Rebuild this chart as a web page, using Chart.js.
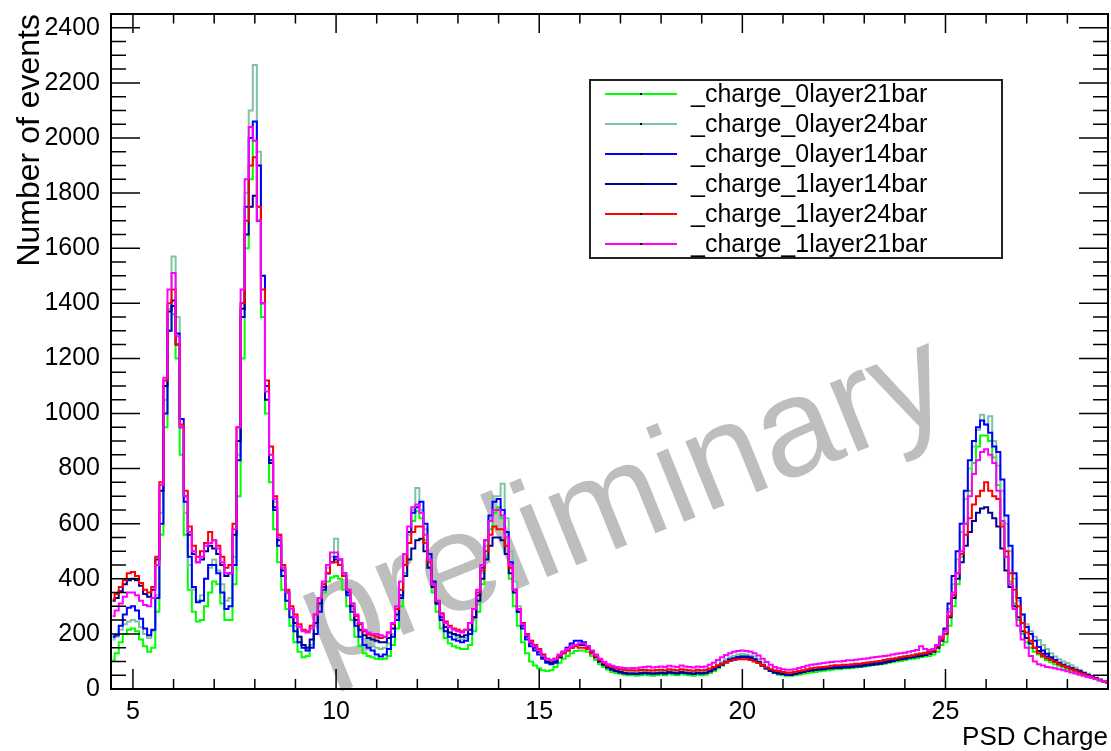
<!DOCTYPE html>
<html>
<head>
<meta charset="utf-8">
<script src="https://cdn.jsdelivr.net/npm/chart.js@4.4.0/dist/chart.umd.min.js"></script>
<style>
  html, body { margin: 0; padding: 0; background: #fff; }
  #wrap { width: 1111px; height: 751px; }
</style>
</head>
<body>
<div id="wrap"><canvas id="psd-chart" width="1111" height="751"></canvas></div>
<script>
// bin centres of the PSD charge histograms (bin width 0.1)
const binCenters = [
  4.5, 4.6, 4.7, 4.8, 4.9,
  5.0, 5.1, 5.2, 5.3, 5.4, 5.5, 5.6, 5.7, 5.8, 5.9,
  6.0, 6.1, 6.2, 6.3, 6.4, 6.5, 6.6, 6.7, 6.8, 6.9,
  7.0, 7.1, 7.2, 7.3, 7.4, 7.5, 7.6, 7.7, 7.8, 7.9,
  8.0, 8.1, 8.2, 8.3, 8.4, 8.5, 8.6, 8.7, 8.8, 8.9,
  9.0, 9.1, 9.2, 9.3, 9.4, 9.5, 9.6, 9.7, 9.8, 9.9,
  10.0, 10.1, 10.2, 10.3, 10.4, 10.5, 10.6, 10.7, 10.8, 10.9,
  11.0, 11.1, 11.2, 11.3, 11.4, 11.5, 11.6, 11.7, 11.8, 11.9,
  12.0, 12.1, 12.2, 12.3, 12.4, 12.5, 12.6, 12.7, 12.8, 12.9,
  13.0, 13.1, 13.2, 13.3, 13.4, 13.5, 13.6, 13.7, 13.8, 13.9,
  14.0, 14.1, 14.2, 14.3, 14.4, 14.5, 14.6, 14.7, 14.8, 14.9,
  15.0, 15.1, 15.2, 15.3, 15.4, 15.5, 15.6, 15.7, 15.8, 15.9,
  16.0, 16.1, 16.2, 16.3, 16.4, 16.5, 16.6, 16.7, 16.8, 16.9,
  17.0, 17.1, 17.2, 17.3, 17.4, 17.5, 17.6, 17.7, 17.8, 17.9,
  18.0, 18.1, 18.2, 18.3, 18.4, 18.5, 18.6, 18.7, 18.8, 18.9,
  19.0, 19.1, 19.2, 19.3, 19.4, 19.5, 19.6, 19.7, 19.8, 19.9,
  20.0, 20.1, 20.2, 20.3, 20.4, 20.5, 20.6, 20.7, 20.8, 20.9,
  21.0, 21.1, 21.2, 21.3, 21.4, 21.5, 21.6, 21.7, 21.8, 21.9,
  22.0, 22.1, 22.2, 22.3, 22.4, 22.5, 22.6, 22.7, 22.8, 22.9,
  23.0, 23.1, 23.2, 23.3, 23.4, 23.5, 23.6, 23.7, 23.8, 23.9,
  24.0, 24.1, 24.2, 24.3, 24.4, 24.5, 24.6, 24.7, 24.8, 24.9,
  25.0, 25.1, 25.2, 25.3, 25.4, 25.5, 25.6, 25.7, 25.8, 25.9,
  26.0, 26.1, 26.2, 26.3, 26.4, 26.5, 26.6, 26.7, 26.8, 26.9,
  27.0, 27.1, 27.2, 27.3, 27.4, 27.5, 27.6, 27.7, 27.8, 27.9,
  28.0, 28.1, 28.2, 28.3, 28.4, 28.5, 28.6, 28.7, 28.8, 28.9,
  29.0
];

const charge0layer21 = [
  105, 130, 170, 200, 215,
  220, 210, 180, 155, 135, 150, 280, 560, 950, 1300,
  1360, 1200, 850, 560, 360, 280, 245, 250, 300, 350,
  390, 380, 310, 250, 250, 380, 700, 1200, 1600, 1850,
  1990, 1750, 1350, 1000, 750, 580, 460, 360, 290, 230,
  170, 135, 115, 120, 160, 230, 300, 350, 390, 405,
  410, 400, 360, 300, 250, 190, 155, 130, 120, 115,
  110, 108, 110, 120, 160, 220, 300, 420, 530, 610,
  645, 620, 540, 440, 350, 280, 220, 185, 165, 155,
  150, 145, 145, 160, 210, 280, 380, 480, 580, 640,
  660, 620, 520, 400, 300, 230, 170, 130, 100, 85,
  75, 68, 65, 68, 80, 95, 110, 120, 130, 138,
  140, 140, 135, 120, 105, 90, 80, 70, 62, 58,
  55, 52, 50, 50, 48, 50, 52, 50, 48, 50,
  52, 50, 55, 52, 50, 55, 52, 50, 48, 52,
  50, 52, 58, 65, 75, 85, 95, 105, 112, 118,
  120, 118, 115, 110, 100, 88, 75, 65, 58, 52,
  50, 48, 48, 50, 52, 55, 58, 60, 62, 64,
  66, 68, 70, 72, 72, 74, 75, 76, 78, 80,
  82, 84, 86, 88, 90, 92, 95, 98, 100, 102,
  105, 108, 110, 112, 115, 118, 120, 125, 135, 160,
  170, 230, 300, 380, 480, 600, 720, 820, 880, 920,
  920, 900, 840, 740, 600, 480, 390, 310, 250, 200,
  170, 150, 135, 125, 115, 105, 97, 90, 84, 78,
  72, 66, 60, 55, 50, 45, 40, 35, 30, 26,
  22
];

const charge0layer24 = [
  180, 190, 215, 235, 245,
  250, 245, 225, 200, 185, 210, 340, 640, 1050, 1380,
  1570, 1350, 950, 640, 450, 360, 320, 340, 400, 440,
  470, 430, 380, 320, 330, 480, 850, 1400, 1800, 2100,
  2265, 1950, 1500, 1100, 850, 680, 560, 440, 350, 290,
  230, 190, 160, 140, 160, 230, 310, 380, 440, 480,
  545, 470, 420, 350, 290, 240, 210, 180, 165, 155,
  150, 145, 150, 165, 200, 260, 340, 450, 560, 650,
  730, 650, 580, 480, 390, 320, 260, 225, 205, 195,
  185, 180, 185, 200, 250, 320, 420, 520, 620, 700,
  700, 745, 620, 500, 390, 300, 240, 200, 175, 160,
  145, 125, 110, 100, 105, 120, 135, 145, 155, 160,
  165, 160, 150, 135, 120, 105, 95, 85, 78, 72,
  68, 65, 62, 62, 60, 62, 64, 62, 60, 62,
  64, 62, 66, 64, 62, 66, 64, 62, 60, 64,
  62, 64, 70, 78, 88, 98, 108, 115, 120, 125,
  128, 125, 122, 118, 108, 95, 82, 72, 65, 60,
  58, 56, 56, 58, 62, 65, 68, 70, 72, 74,
  76, 78, 80, 82, 82, 84, 85, 86, 88, 90,
  92, 94, 96, 98, 100, 103, 106, 110, 113, 116,
  118, 122, 125, 128, 130, 133, 138, 145, 160, 185,
  215, 290, 380, 470, 570, 690, 800, 880, 940, 995,
  960, 990, 900, 810, 720, 600, 500, 400, 320, 270,
  235, 210, 190, 178, 160, 145, 130, 118, 108, 100,
  94, 86, 78, 70, 62, 55, 48, 42, 36, 30,
  26
];

const charge0layer14 = [
  190, 195, 230, 270, 295,
  300, 285, 255, 220, 195, 215, 330, 600, 1000, 1300,
  1390, 1290, 980, 680, 480, 370, 315, 320, 400, 450,
  450, 420, 350, 290, 300, 450, 830, 1350, 1750, 2000,
  2060, 1900, 1500, 1100, 830, 650, 520, 410, 320, 260,
  210, 170, 150, 140, 150, 200, 280, 360, 420, 460,
  480, 470, 420, 340, 280, 230, 190, 160, 150, 140,
  125, 118, 125, 145, 190, 250, 340, 450, 570, 640,
  660, 680, 600, 490, 390, 310, 250, 210, 190, 180,
  175, 170, 175, 200, 260, 340, 440, 540, 630, 680,
  690, 650, 570, 460, 360, 280, 220, 180, 155, 140,
  125, 110, 95, 90, 95, 115, 135, 150, 165, 175,
  175, 170, 155, 135, 115, 100, 88, 78, 70, 65,
  60, 57, 55, 55, 54, 56, 58, 56, 55, 56,
  58, 56, 60, 58, 56, 60, 58, 56, 54, 58,
  56, 58, 64, 72, 82, 92, 100, 108, 112, 116,
  118, 118, 115, 108, 98, 86, 75, 66, 60, 56,
  54, 52, 52, 55, 58, 62, 65, 68, 70, 72,
  74, 76, 78, 80, 80, 82, 83, 84, 86, 88,
  90, 92, 94, 96, 98, 100, 104, 108, 110, 112,
  115, 118, 120, 122, 125, 128, 133, 142, 160, 190,
  220, 310, 410, 500, 600, 720, 830, 900, 950, 975,
  960, 930, 880, 860, 760, 630, 520, 420, 330, 270,
  225, 200, 175, 152, 140, 128, 115, 105, 95, 88,
  82, 76, 70, 65, 58, 52, 46, 40, 34, 28,
  24
];

const charge1layer14 = [
  320, 330, 355, 380, 395,
  400, 395, 375, 345, 335, 360, 470, 720, 1100, 1370,
  1410, 1250, 950, 700, 560, 490, 460, 470, 500, 520,
  510, 490, 450, 410, 420, 560, 900, 1380, 1650, 1750,
  1790, 1700, 1400, 1050, 820, 660, 540, 430, 350, 290,
  240, 190, 160, 150, 180, 240, 310, 370, 420, 460,
  470, 450, 410, 350, 300, 250, 215, 195, 185, 180,
  175, 170, 170, 185, 220, 270, 330, 410, 470, 510,
  540, 545, 500, 440, 370, 310, 260, 225, 205, 200,
  195, 190, 195, 215, 260, 320, 400, 470, 520, 550,
  550, 540, 490, 420, 350, 280, 230, 190, 165, 150,
  135, 115, 100, 95, 100, 115, 130, 140, 150, 160,
  160, 160, 150, 130, 115, 100, 88, 78, 72, 66,
  62, 58, 56, 56, 55, 57, 59, 57, 56, 57,
  59, 57, 61, 59, 57, 61, 59, 57, 55, 59,
  57, 59, 64, 72, 80, 88, 96, 103, 108, 112,
  114, 114, 110, 104, 95, 84, 74, 66, 60, 57,
  55, 52, 52, 55, 58, 62, 65, 67, 69, 71,
  72, 74, 75, 76, 76, 78, 78, 80, 82, 82,
  84, 86, 88, 90, 92, 95, 98, 102, 105, 108,
  110, 113, 115, 118, 120, 123, 128, 135, 150, 175,
  200, 260, 330, 400, 460, 520, 570, 610, 640, 655,
  660, 640, 620, 590, 510, 430, 370, 300, 260, 210,
  185, 165, 150, 138, 128, 118, 108, 100, 92, 85,
  80, 74, 68, 62, 56, 50, 44, 38, 33, 28,
  24
];

const charge1layer24 = [
  325, 345, 370, 395, 420,
  425, 410, 385, 360, 350, 370, 480, 750, 1120, 1400,
  1450, 1250, 960, 720, 590, 520, 480, 500, 530, 570,
  540, 520, 480, 440, 450, 600, 950, 1400, 1700, 1900,
  1930, 1750, 1450, 1120, 880, 700, 560, 450, 360, 300,
  270, 235, 215, 210, 230, 270, 330, 380, 420, 460,
  460, 450, 410, 360, 310, 265, 235, 210, 200, 195,
  190, 185, 190, 205, 235, 290, 360, 450, 530, 570,
  590, 590, 530, 460, 380, 320, 275, 245, 230, 220,
  215, 210, 215, 240, 290, 350, 430, 500, 560, 590,
  580, 580, 520, 440, 360, 290, 240, 200, 175, 160,
  145, 125, 110, 105, 110, 120, 130, 140, 150, 155,
  150, 150, 145, 130, 118, 105, 95, 85, 80, 75,
  72, 70, 68, 68, 67, 69, 70, 68, 67, 69,
  70, 68, 72, 70, 68, 72, 70, 68, 66, 70,
  68, 70, 74, 80, 86, 92, 98, 102, 105, 108,
  108, 108, 105, 100, 94, 86, 78, 72, 68, 65,
  62, 60, 60, 62, 65, 68, 72, 75, 77, 79,
  80, 82, 84, 86, 86, 88, 88, 90, 92, 92,
  94, 96, 98, 100, 102, 105, 108, 110, 112, 115,
  118, 120, 122, 125, 128, 130, 133, 140, 155, 180,
  200, 265, 340, 420, 490, 560, 620, 670, 700, 720,
  750, 720, 700, 690, 590, 500, 420, 360, 300, 240,
  205, 175, 150, 130, 120, 112, 105, 98, 90, 84,
  78, 72, 66, 60, 54, 48, 43, 38, 33, 28,
  24
];

const charge1layer21 = [
  265, 285, 310, 335, 350,
  350, 340, 320, 305, 300, 330, 450, 740, 1130, 1450,
  1510, 1280, 950, 700, 570, 500, 460, 480, 520, 530,
  540, 510, 460, 420, 420, 580, 950, 1450, 1850, 2040,
  1990, 1700, 1400, 1080, 850, 690, 550, 440, 350, 290,
  260, 225, 210, 205, 220, 270, 330, 390, 450, 495,
  495, 470, 420, 360, 310, 270, 240, 215, 205, 200,
  200, 195, 190, 205, 240, 300, 390, 490, 590, 660,
  670, 640, 560, 470, 380, 320, 270, 240, 225, 215,
  210, 205, 215, 240, 290, 360, 450, 540, 610, 650,
  650, 630, 550, 450, 360, 290, 235, 195, 170, 155,
  140, 120, 108, 105, 110, 125, 135, 145, 155, 160,
  165, 165, 155, 140, 125, 110, 98, 90, 84, 80,
  78, 76, 74, 76, 75, 78, 80, 82, 78, 80,
  82, 80, 84, 82, 80, 85, 82, 80, 78, 82,
  80, 82, 88, 95, 105, 115, 123, 130, 135, 138,
  140, 138, 135, 130, 122, 110, 98, 88, 80, 75,
  72, 70, 70, 72, 76, 80, 84, 88, 90, 92,
  94, 96, 98, 100, 100, 102, 104, 104, 106, 108,
  110, 112, 114, 116, 118, 120, 122, 125, 128, 130,
  132, 135, 138, 142, 155, 145, 142, 145, 160, 190,
  210, 280, 350, 420, 500, 600, 700, 780, 830, 860,
  870, 850, 820, 720, 610, 480, 380, 290, 230, 180,
  150, 120, 100, 90, 85, 80, 78, 75, 72, 68,
  64, 60, 56, 52, 48, 44, 40, 36, 32, 28,
  24
];

const seriesNames = ['_charge_0layer21bar', '_charge_0layer24bar', '_charge_0layer14bar',
                     '_charge_1layer14bar', '_charge_1layer24bar', '_charge_1layer21bar'];
const seriesValues = [charge0layer21, charge0layer24, charge0layer14,
                      charge1layer14, charge1layer24, charge1layer21];
const seriesColors = ['#00ff00', 'rgb(126,196,160)', '#0000ff', '#000099', '#ff0000', '#ff00ff'];

const xTickLabels = [5, 10, 15, 20, 25];
const yTickLabels = [0, 200, 400, 600, 800, 1000, 1200, 1400, 1600, 1800, 2000, 2200, 2400];

const FONT = "'Liberation Sans', Arial, Helvetica, sans-serif";

// ROOT-like frame: inward ticks on all four sides, legend box, watermark
const rootStyle = {
  id: 'rootStyle',
  beforeDatasetsDraw(chart) {
    const ctx = chart.ctx;
    ctx.save();
    ctx.translate(322, 668);
    ctx.rotate(-22 * Math.PI / 180);
    ctx.font = '140px ' + FONT;
    ctx.fillStyle = '#bebebe';
    ctx.textAlign = 'left';
    ctx.textBaseline = 'alphabetic';
    ctx.fillText('preliminary', 0, 0);
    ctx.restore();
  },
  afterDatasetsDraw(chart) {
    const {ctx, chartArea: a} = chart;
    const xs = chart.scales.x, ys = chart.scales.y;
    ctx.save();
    ctx.strokeStyle = '#000';
    ctx.lineWidth = 1.5;
    ctx.beginPath();
    for (let v = 0; v <= ys.max; v += 50) {
      const py = ys.getPixelForValue(v);
      const len = v % 200 === 0 ? 29 : 15;
      ctx.moveTo(a.left, py); ctx.lineTo(a.left + len, py);
      ctx.moveTo(a.right, py); ctx.lineTo(a.right - len, py);
    }
    for (let v = Math.ceil(xs.min); v <= xs.max; v += 1) {
      const px = xs.getPixelForValue(v);
      const len = v % 5 === 0 ? 20 : 10;
      ctx.moveTo(px, a.bottom); ctx.lineTo(px, a.bottom - len);
      ctx.moveTo(px, a.top); ctx.lineTo(px, a.top + 19 * len / 20);
    }
    ctx.stroke();
    ctx.lineWidth = 2;
    ctx.strokeRect(a.left, a.top, a.right - a.left, a.bottom - a.top);
    ctx.restore();
  },
  afterDraw(chart) {
    const ctx = chart.ctx;
    const box = {x: 590, y: 80, w: 412, h: 178};
    ctx.save();
    ctx.fillStyle = '#fff';
    ctx.fillRect(box.x, box.y, box.w, box.h);
    ctx.strokeStyle = '#222';
    ctx.lineWidth = 2;
    ctx.strokeRect(box.x, box.y, box.w, box.h);
    ctx.font = '25px ' + FONT;
    ctx.textBaseline = 'middle';
    ctx.textAlign = 'left';
    chart.data.datasets.forEach((ds, i) => {
      const cy = 94 + i * 30;
      ctx.strokeStyle = ds.borderColor;
      ctx.lineWidth = 2;
      ctx.beginPath();
      ctx.moveTo(605, cy); ctx.lineTo(677, cy);
      ctx.stroke();
      ctx.fillStyle = '#000';
      ctx.fillRect(640, cy - 1, 2, 2);
      ctx.fillText(ds.label, 691, cy + 1);
    });
    ctx.restore();
  }
};

Chart.defaults.font.family = FONT;
Chart.defaults.color = '#000';

new Chart(document.getElementById('psd-chart'), {
  type: 'line',
  data: {
    datasets: seriesNames.map((name, i) => ({
      label: name,
      data: binCenters.map((x, j) => ({x: x, y: seriesValues[i][j]})),
      borderColor: seriesColors[i],
      backgroundColor: seriesColors[i],
      borderWidth: 2,
      pointRadius: 0,
      stepped: 'middle',
      fill: false,
      order: 6 - i
    }))
  },
  options: {
    responsive: false,
    animation: false,
    devicePixelRatio: 1,
    layout: { padding: { top: 14, right: 3, left: 0, bottom: 0 } },
    plugins: {
      legend: { display: false },
      tooltip: { enabled: false }
    },
    scales: {
      x: {
        type: 'linear',
        min: 4.46,
        max: 29,
        grid: { display: false, drawTicks: false },
        border: { display: false },
        ticks: { font: { size: 25 }, padding: 8, maxRotation: 0, autoSkip: false,
                 callback: v => String(v) },
        afterBuildTicks: s => { s.ticks = xTickLabels.map(v => ({value: v})); },
        afterFit: s => { s.height = 62; s.paddingLeft = 0; s.paddingRight = 0; },
        title: {
          display: true,
          text: 'PSD Charge',
          align: 'end',
          font: { size: 26, lineHeight: 1 },
          padding: { top: 0, bottom: 0 }
        }
      },
      y: {
        type: 'linear',
        min: 0,
        max: 2450,
        grid: { display: false, drawTicks: false },
        border: { display: false },
        ticks: { font: { size: 25 }, padding: 11, callback: v => String(v) },
        afterBuildTicks: s => { s.ticks = yTickLabels.map(v => ({value: v})); },
        afterFit: s => { s.width = 111; s.paddingTop = 0; s.paddingBottom = 0; },
        title: {
          display: true,
          text: 'Number of events',
          align: 'end',
          font: { size: 32, lineHeight: 1 },
          padding: { top: 14, bottom: 0 }
        }
      }
    }
  },
  plugins: [rootStyle]
});
</script>
</body>
</html>
